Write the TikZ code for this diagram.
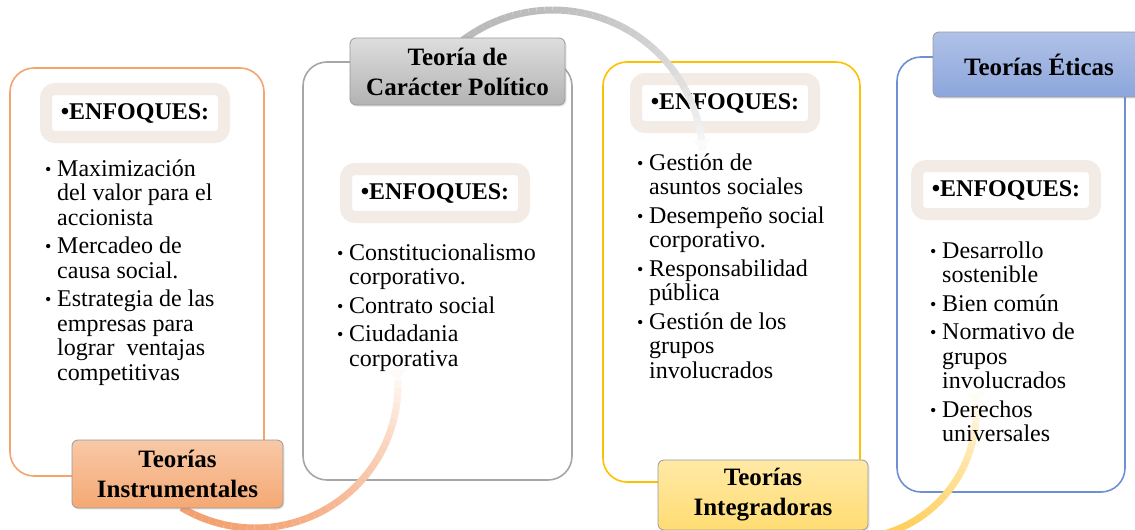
\documentclass[tikz,border=0pt]{standalone}
\usepackage{fontspec}
\setmainfont{Liberation Serif}
\usetikzlibrary{calc,arrows.meta,shadows}
\definecolor{instr}{HTML}{F4A46C}
\definecolor{polit}{HTML}{A6A6A6}
\definecolor{integ}{HTML}{FFC000}
\definecolor{etica}{HTML}{6F8FD3}
\definecolor{beige}{HTML}{F3ECE6}
\definecolor{arcO}{HTML}{F4A070}
\definecolor{arcG}{HTML}{B9B9B9}
\definecolor{arcY}{HTML}{FFC63D}
\newcommand{\bul}{\rule{0pt}{19pt}\makebox[12pt][l]{\raisebox{1pt}{\fontsize{18}{18}\selectfont\textbullet}}}
\newcommand{\sig}{\hspace*{12pt}}

\begin{document}
\begin{tikzpicture}[x=1pt,y=-1pt,
  marco/.style={line width=1.6pt,fill=white,rounded corners=24pt,inner sep=0pt},
  enf/.style={draw=beige,line width=12pt,fill=white,rounded corners=9pt,
    minimum width=178pt,minimum height=48pt,inner sep=0pt,
    font=\bfseries\fontsize{24}{24}\selectfont},
  lst/.style={anchor=north west,align=left,inner sep=0pt,
    font=\fontsize{24}{24.5}\selectfont},
  teoria/.style={draw=black!40,line width=0.8pt,rounded corners=6pt,
    align=center,inner sep=0pt,font=\bfseries\fontsize{25}{30}\selectfont,
    drop shadow={opacity=.2,shadow xshift=1.5pt,shadow yshift=-1.5pt}}]
\useasboundingbox (0,0) rectangle (1135,530);
%% marcos
\path
(137,272) node[marco,draw=instr,minimum width=254,minimum height=408] (m1) {}
(437.5,271) node[marco,draw=polit,minimum width=269,minimum height=418] (m2) {}
(731.5,272) node[marco,draw=integ,minimum width=257,minimum height=420] (m3) {}
(1011,274.5) node[marco,draw=etica,minimum width=228,minimum height=435] (m4) {};
%% enfoques
\path
(135,113) node[enf] (e1) {\textbullet ENFOQUES:}
(435,193) node[enf] (e2) {\textbullet ENFOQUES:}
(725,103) node[enf] (e3) {\textbullet ENFOQUES:}
(1006,190) node[enf] (e4) {\textbullet ENFOQUES:};
%% arcos que se desvanecen
\coordinate (c1) at (255,385);
\coordinate (c2) at (553,160);
\coordinate (c3) at (849,412);
\foreach \c/\col/\r/\sa/\ea in {c1/arcO/143/121/-2,c2/arcG/150/-127/-4,c3/arcY/127/115/-4}{
  \foreach \i in {0,...,39}{
    \pgfmathsetmacro\aa{\sa+(\ea-\sa)*\i/40}
    \pgfmathsetmacro\ab{\sa+(\ea-\sa)*(\i+1)/40}
    \pgfmathtruncatemacro\p{100-0.058*\i*\i}
    \draw[line width=7pt,\col!\p!white] ($(\c)+(\aa:\r)$) -- ($(\c)+(\ab:\r)$);
  }
  \draw[line width=7pt,\col!5!white,-{Triangle[length=10pt,width=18pt]}]
    ($(\c)+(\ea-2:\r)$) -- ($(\c)+(\ea:\r)$);
}
%% listas
\path
(45,157) node[lst] (l1) {\bul Maximización\\\sig del valor para el\\\sig accionista\\[4pt]
  \bul Mercadeo de\\\sig causa social.\\[4pt]
  \bul Estrategia de las\\\sig empresas para\\\sig lograr\ \ ventajas\\\sig competitivas}
(337,241) node[lst] (l2) {\bul Constitucionalismo\\\sig corporativo.\\[4pt]
  \bul Contrato social\\[4pt]
  \bul Ciudadania\\\sig corporativa}
(637,151) node[lst] (l3) {\bul Gestión de\\\sig asuntos sociales\\[4pt]
  \bul Desempeño social\\\sig corporativo.\\[4pt]
  \bul Responsabilidad\\\sig pública\\[4pt]
  \bul Gestión de los\\\sig grupos\\\sig involucrados}
(930,239) node[lst] (l4) {\bul Desarrollo\\\sig sostenible\\[4pt]
  \bul Bien común\\[4pt]
  \bul Normativo de\\\sig grupos\\\sig involucrados\\[4pt]
  \bul Derechos\\\sig universales};
%% teorias
\path
(177.5,474) node[teoria,top color=instr!60!white,bottom color=instr!95!white,
  minimum width=211,minimum height=68] (t1) {Teorías\\Instrumentales}
(457.5,71.5) node[teoria,top color=black!13,bottom color=black!30,
  minimum width=215,minimum height=67] (t2) {Teoría de\\Carácter Político}
(763,495) node[teoria,top color=integ!35!white,bottom color=integ!55!white,
  minimum width=210,minimum height=70] (t3) {Teorías\\Integradoras}
(1039,64.5) node[teoria,top color=etica!55!white,bottom color=etica!80!white,
  minimum width=212,minimum height=65] (t4) {Teorías Éticas};
\end{tikzpicture}
\end{document}
